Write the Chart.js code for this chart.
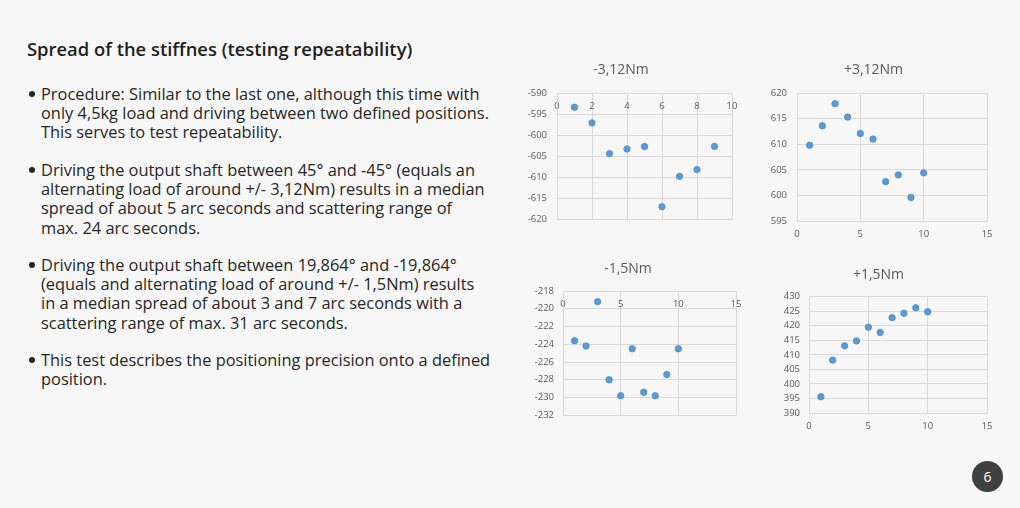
<!DOCTYPE html>
<html>
<head>
<meta charset="utf-8">
<script src="https://cdn.jsdelivr.net/npm/chart.js@4.4.1/dist/chart.umd.min.js"></script>
<style>
  html, body { margin: 0; padding: 0; }
  body { width: 1020px; height: 508px; background: #f7f7f7; position: relative; overflow: hidden; font-family: "Open Sans", sans-serif; color: #222; }
  #title { position: absolute; left: 27px; top: 36px; font-size: 18.4px; font-weight: 600; line-height: 26px; white-space: nowrap; color: #1e1e1e; }
  .bullet { position: absolute; left: 41px; font-size: 16.4px; line-height: 19.2px; white-space: nowrap; color: #262626; }
  .bullet::before { content: ""; position: absolute; left: -12px; top: 7px; width: 6px; height: 6px; border-radius: 50%; background: #262626; }
  canvas { position: absolute; }
  #page { position: absolute; left: 972px; top: 461px; width: 31px; height: 31px; border-radius: 50%; background: #404040; color: #fff; font-size: 14px; line-height: 31px; text-align: center; }
</style>
</head>
<body>
<div id="title">Spread of the stiffnes (testing repeatability)</div>
<div class="bullet" style="top:84px">Procedure: Similar to the last one, although this time with<br>only 4,5kg load and driving between two defined positions.<br>This serves to test repeatability.</div>
<div class="bullet" style="top:160px">Driving the output shaft between 45° and -45° (equals an<br>alternating load of around +/- 3,12Nm) results in a median<br>spread of about 5 arc seconds and scattering range of<br>max. 24 arc seconds.</div>
<div class="bullet" style="top:255px">Driving the output shaft between 19,864° and -19,864°<br>(equals and alternating load of around +/- 1,5Nm) results<br>in a median spread of about 3 and 7 arc seconds with a<br>scattering range of max. 31 arc seconds.</div>
<div class="bullet" style="top:350px">This test describes the positioning precision onto a defined<br>position.</div>

<canvas id="c1" width="250" height="180" style="left:510px;top:55px"></canvas>
<canvas id="c2" width="248" height="190" style="left:760px;top:55px"></canvas>
<canvas id="c3" width="240" height="175" style="left:520px;top:255px"></canvas>
<canvas id="c4" width="240" height="175" style="left:770px;top:260px"></canvas>
<div id="page">6</div>

<script>
// ---- data ----
const titles = ["-3,12Nm", "+3,12Nm", "-1,5Nm", "+1,5Nm"];
const runsA = [1, 2, 3, 4, 5, 6, 7, 8, 9];
const runsB = [1, 2, 3, 4, 5, 6, 7, 8, 9, 10];
const neg312 = [-593.4, -597.1, -604.4, -603.3, -602.7, -617.0, -609.8, -608.2, -602.7];
const pos312 = [609.8, 613.6, 617.9, 615.3, 612.1, 611.0, 602.7, 604.0, 599.6, 604.4];
const neg15 = [-223.6, -224.2, -219.2, -228.0, -229.8, -224.5, -229.4, -229.8, -227.4, -224.5];
const pos15 = [395.6, 408.2, 413.1, 414.8, 419.5, 417.7, 422.8, 424.3, 426.2, 424.8];
// axis ranges: [min, max, step]
const yRange1 = [-620, -590, 5];
const yRange2 = [595, 620, 5];
const yRange3 = [-232, -218, 2];
const yRange4 = [390, 430, 5];
const xRange1 = [0, 10, 2];
const xRange2 = [0, 15, 5];
const xRange3 = [0, 15, 5];
const xRange4 = [0, 15, 5];

const GRID = '#d9d9d9';
const TICK = '#595959';
const tickFont = { family: 'Open Sans', size: 9.5 };

function makeChart(id, title, xs, ys, xr, yr, g) {
  const pts = xs.map((x, i) => ({ x: x, y: ys[i] }));
  const xScale = {
    type: 'linear', min: xr[0], max: xr[1],
    ticks: { stepSize: xr[2], color: TICK, font: tickFont, padding: g.xPad, maxRotation: 0 },
    grid: { color: GRID, drawTicks: false },
    border: { color: GRID }
  };
  if (g.xTop) {
    xScale.position = { y: yr[1] };
  } else {
    xScale.position = 'bottom';
    xScale.afterFit = s => { s.height = g.xH; };
  }
  new Chart(document.getElementById(id), {
    type: 'scatter',
    data: { datasets: [{ data: pts, backgroundColor: '#5b9bd5', borderColor: '#4a89c6', borderWidth: 0.8, pointRadius: 3.2, pointHoverRadius: 3.2 }] },
    options: {
      responsive: false, maintainAspectRatio: false, animation: false,
      layout: { padding: { left: 0, top: 0, right: g.padR, bottom: g.padB } },
      plugins: {
        legend: { display: false }, tooltip: { enabled: false },
        title: { display: true, text: title, color: TICK, font: { family: 'Open Sans', size: 14, weight: 'normal', lineHeight: 1.2 }, padding: { top: g.tT, bottom: g.tB } }
      },
      scales: {
        x: xScale,
        y: {
          type: 'linear', min: yr[0], max: yr[1],
          ticks: { stepSize: yr[2], color: TICK, font: tickFont, padding: g.yPad },
          grid: { color: GRID, drawTicks: false },
          border: { color: GRID },
          afterFit: s => { s.width = g.yW; }
        }
      }
    }
  });
}

makeChart('c1', titles[0], runsA, neg312, xRange1, yRange1, { xTop: true, xPad: 8, yPad: 10, yW: 47, padR: 28, padB: 13, tT: 6.6, tB: 14.6 });
makeChart('c2', titles[1], runsB, pos312, xRange2, yRange2, { xTop: false, xPad: 8, xH: 20, yPad: 10, yW: 37, padR: 21, padB: 4, tT: 6.6, tB: 14.6 });
makeChart('c3', titles[2], runsB, neg15, xRange3, yRange3, { xTop: true, xPad: 7.6, yPad: 9, yW: 43, padR: 24, padB: 9, tT: 5.6, tB: 13.6 });
makeChart('c4', titles[3], runsB, pos15, xRange4, yRange4, { xTop: false, xPad: 7.6, xH: 19, yPad: 9, yW: 39, padR: 23, padB: 3, tT: 6.6, tB: 13.3 });
</script>
</body>
</html>
